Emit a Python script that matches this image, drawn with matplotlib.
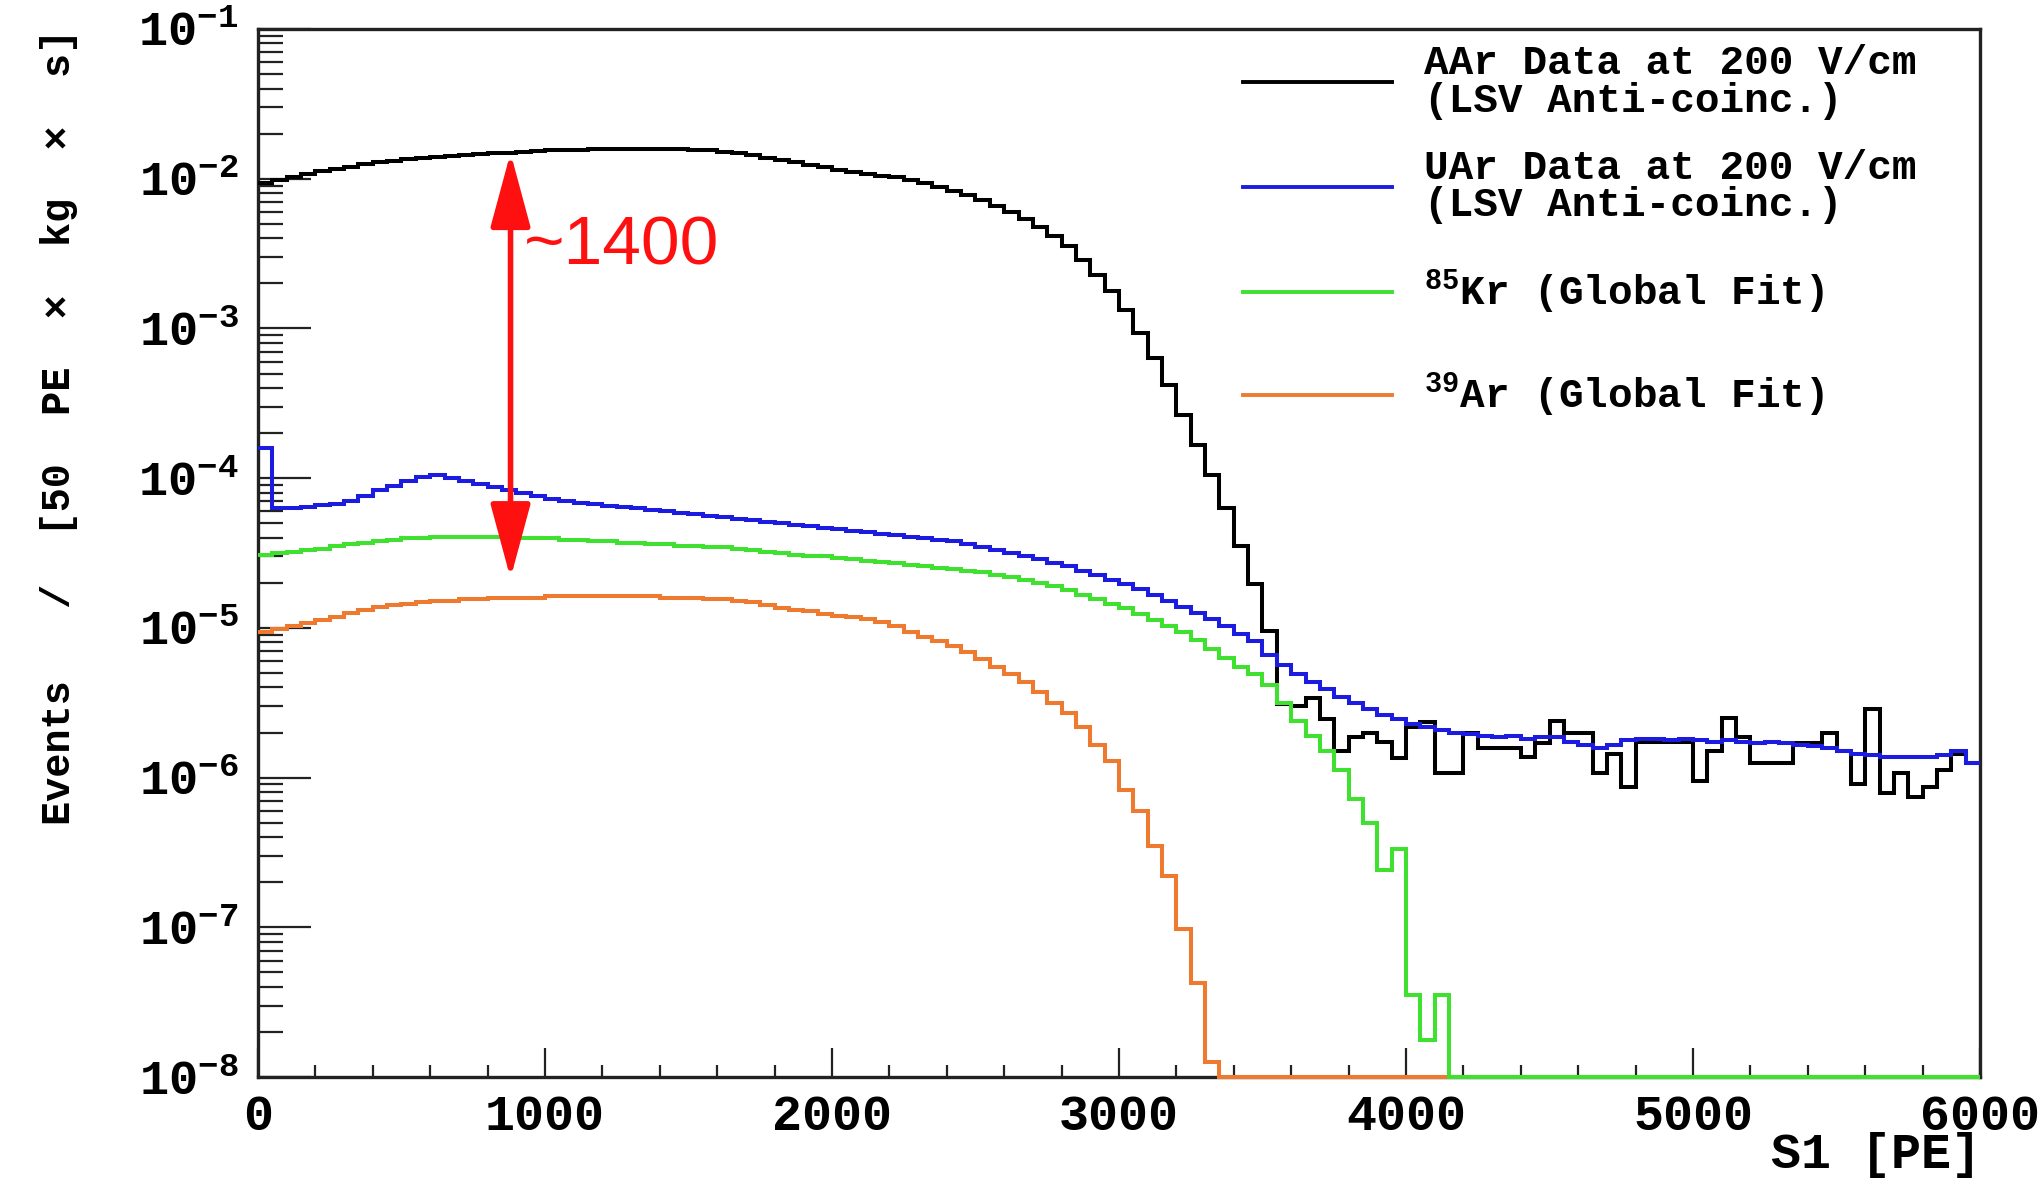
"""S1 spectra of atmospheric and underground argon, log scale."""
import numpy as np
import matplotlib.pyplot as plt
from matplotlib.ticker import MultipleLocator, LogLocator, FuncFormatter, NullFormatter

plt.rcParams['font.family'] = ['Liberation Mono', 'DejaVu Sans']
plt.rcParams['font.weight'] = 'bold'
plt.rcParams['mathtext.fontset'] = 'custom'
plt.rcParams['mathtext.rm'] = 'Liberation Mono:bold'
plt.rcParams['mathtext.bf'] = 'Liberation Mono:bold'
plt.rcParams['mathtext.it'] = 'Liberation Mono:bold'

# 50 PE bins in S1
bin_edges = np.arange(0, 6001, 50)

# log10 of the rate in each bin, None = empty bin
aar_log10 = [
    -2.03, -2.01, -1.99, -1.97, -1.95, -1.935, -1.92, -1.905, -1.89, -1.88,
    -1.87, -1.86, -1.855, -1.85, -1.84, -1.835, -1.83, -1.825, -1.82, -1.815,
    -1.81, -1.81, -1.805, -1.80, -1.80, -1.80, -1.80, -1.80, -1.80, -1.80,
    -1.805, -1.81, -1.82, -1.83, -1.84, -1.86, -1.875, -1.89, -1.91, -1.925,
    -1.94, -1.955, -1.97, -1.985, -1.99, -2.01, -2.03, -2.055, -2.08, -2.11,
    -2.14, -2.18, -2.22, -2.27, -2.32, -2.38, -2.45, -2.54, -2.64, -2.75,
    -2.88, -3.03, -3.20, -3.38, -3.58, -3.78, -3.98, -4.20, -4.45, -4.71,
    -5.02, -5.51, -5.52, -5.47, -5.61, -5.82, -5.73, -5.70, -5.76, -5.87,
    -5.66, -5.63, -5.97, -5.97, -5.70, -5.80, -5.80, -5.80, -5.86, -5.77,
    -5.62, -5.70, -5.70, -5.97, -5.84, -6.06, -5.76, -5.76, -5.76, -5.76,
    -6.02, -5.82, -5.60, -5.73, -5.90, -5.90, -5.90, -5.77, -5.77, -5.70,
    -5.82, -6.04, -5.54, -6.10, -5.97, -6.13, -6.06, -5.95, -5.84, -5.90,
]
uar_log10 = [
    -3.80, -4.20, -4.20, -4.19, -4.18, -4.17, -4.15, -4.12, -4.08, -4.05,
    -4.02, -3.99, -3.98, -4.00, -4.02, -4.04, -4.06, -4.08, -4.10, -4.12,
    -4.14, -4.155, -4.165, -4.175, -4.185, -4.195, -4.20, -4.21, -4.22, -4.23,
    -4.24, -4.25, -4.26, -4.27, -4.28, -4.29, -4.30, -4.31, -4.32, -4.33,
    -4.34, -4.35, -4.36, -4.37, -4.38, -4.39, -4.40, -4.41, -4.42, -4.44,
    -4.46, -4.48, -4.50, -4.52, -4.54, -4.57, -4.59, -4.62, -4.65, -4.68,
    -4.71, -4.74, -4.78, -4.82, -4.86, -4.90, -4.94, -4.99, -5.04, -5.09,
    -5.18, -5.25, -5.31, -5.36, -5.41, -5.46, -5.50, -5.54, -5.58, -5.61,
    -5.64, -5.66, -5.68, -5.70, -5.71, -5.72, -5.73, -5.72, -5.74, -5.73,
    -5.73, -5.76, -5.78, -5.80, -5.78, -5.75, -5.74, -5.74, -5.75, -5.74,
    -5.75, -5.76, -5.75, -5.76, -5.77, -5.76, -5.77, -5.78, -5.79, -5.80,
    -5.82, -5.84, -5.85, -5.86, -5.86, -5.86, -5.86, -5.85, -5.82, -5.90,
]
kr85_log10 = [
    -4.51, -4.50, -4.49, -4.48, -4.47, -4.45, -4.44, -4.43, -4.42, -4.41,
    -4.40, -4.40, -4.39, -4.39, -4.39, -4.39, -4.39, -4.39, -4.40, -4.40,
    -4.40, -4.41, -4.41, -4.42, -4.42, -4.43, -4.43, -4.44, -4.44, -4.45,
    -4.45, -4.46, -4.46, -4.47, -4.48, -4.49, -4.50, -4.51, -4.52, -4.52,
    -4.53, -4.54, -4.55, -4.56, -4.57, -4.58, -4.59, -4.60, -4.61, -4.62,
    -4.63, -4.65, -4.66, -4.68, -4.70, -4.72, -4.75, -4.78, -4.81, -4.84,
    -4.87, -4.91, -4.95, -4.99, -5.03, -5.08, -5.14, -5.20, -5.26, -5.31,
    -5.38, -5.50, -5.62, -5.72, -5.82, -5.95, -6.14, -6.30, -6.62, -6.48,
    -7.45, -7.75, -7.45, None, None, None, None, None, None, None,
    None, None, None, None, None, None, None, None, None, None,
    None, None, None, None, None, None, None, None, None, None,
    None, None, None, None, None, None, None, None, None, None,
]
ar39_log10 = [
    -5.03, -5.01, -4.99, -4.97, -4.95, -4.93, -4.90, -4.88, -4.86, -4.85,
    -4.84, -4.83, -4.82, -4.82, -4.81, -4.81, -4.80, -4.80, -4.80, -4.80,
    -4.79, -4.79, -4.79, -4.79, -4.79, -4.79, -4.79, -4.79, -4.80, -4.80,
    -4.80, -4.81, -4.81, -4.82, -4.83, -4.85, -4.87, -4.88, -4.89, -4.91,
    -4.92, -4.93, -4.94, -4.96, -4.99, -5.03, -5.06, -5.09, -5.12, -5.16,
    -5.21, -5.26, -5.31, -5.36, -5.43, -5.50, -5.57, -5.66, -5.78, -5.89,
    -6.08, -6.22, -6.46, -6.66, -7.01, -7.37, -7.90, None, None, None,
    None, None, None, None, None, None, None, None, None, None,
    None, None, None, None, None, None, None, None, None, None,
    None, None, None, None, None, None, None, None, None, None,
    None, None, None, None, None, None, None, None, None, None,
    None, None, None, None, None, None, None, None, None, None,
]

labels = ['AAr Data at 200 V/cm\n(LSV Anti-coinc.)',
          'UAr Data at 200 V/cm\n(LSV Anti-coinc.)',
          r'$^{85}$Kr (Global Fit)',
          r'$^{39}$Ar (Global Fit)']
colors = ['#000000', '#1c1ce0', '#3fe030', '#ee7a30']

y_min, y_max = 1e-8, 1e-1


def to_rate(log_vals):
    r = 10.0 ** np.array(log_vals, dtype=float)
    # empty bins sit on the bottom of the frame
    return np.where(np.isnan(r), y_min, r)


fig = plt.figure(figsize=(20.44, 11.93), dpi=100)
ax = fig.add_axes([0.1262, 0.0972, 0.8425, 0.8785])

series = [aar_log10, uar_log10, ar39_log10, kr85_log10]
cols = [colors[0], colors[1], colors[3], colors[2]]
for vals, c in zip(series, cols):
    ax.stairs(to_rate(vals), bin_edges, baseline=None, color=c, lw=2.9,
              zorder=3, clip_on=False)

ax.set_yscale('log')
ax.set_xlim(0, 6000)
ax.set_ylim(y_min, y_max)

ax.xaxis.set_major_locator(MultipleLocator(1000))
ax.xaxis.set_minor_locator(MultipleLocator(200))
ax.yaxis.set_major_locator(LogLocator(base=10, numticks=20))
ax.yaxis.set_minor_locator(LogLocator(base=10, subs=np.arange(2, 10), numticks=20))
ax.yaxis.set_minor_formatter(NullFormatter())
ax.yaxis.set_major_formatter(FuncFormatter(
    lambda v, p: r'$10^{%d}$' % int(round(np.log10(v)))))

ax.tick_params(which='both', direction='in', top=False, right=False,
               color='#222222', width=1.6)
ax.tick_params(axis='y', which='major', length=38, pad=14, labelsize=35)
ax.tick_params(axis='y', which='minor', length=18)
ax.tick_params(axis='x', which='major', length=21, pad=12, labelsize=36)
ax.tick_params(axis='x', which='minor', length=9)
for s in ax.spines.values():
    s.set_linewidth(2.4)
    s.set_color('#222222')

# axis titles
fig.text(0.969, 0.032, 'S1 [PE]', ha='right', va='center', fontsize=36)
fig.text(0.029, 0.976, 'Events   /  [50  PE  \u00d7  kg  \u00d7  s]', rotation=90,
         ha='center', va='top', fontsize=29)

# legend drawn by hand
leg_y = [0.9313, 0.8433, 0.7552, 0.6689]
for y, lab, c in zip(leg_y, labels, colors):
    fig.add_artist(plt.Line2D([0.6081, 0.6810], [y, y], color=c, lw=2.8,
                              transform=fig.transFigure))
    fig.text(0.6967, y, lab, ha='left', va='center', fontsize=29.5,
             linespacing=0.97)

# ratio marker
ax.annotate('', xy=(880, 1.49e-2), xytext=(880, 2.14e-5),
            arrowprops=dict(arrowstyle='<|-|>,head_length=2.3,head_width=0.62',
                            color='#ff1010', lw=4, shrinkA=0, shrinkB=0,
                            mutation_scale=20),
            zorder=6)
ax.text(925, 3.55e-3, '~1400', color='#ff1010', fontsize=50,
        family='Liberation Sans', weight='normal', ha='left', va='center',
        zorder=6)

fig.savefig('out.png', dpi=100)
